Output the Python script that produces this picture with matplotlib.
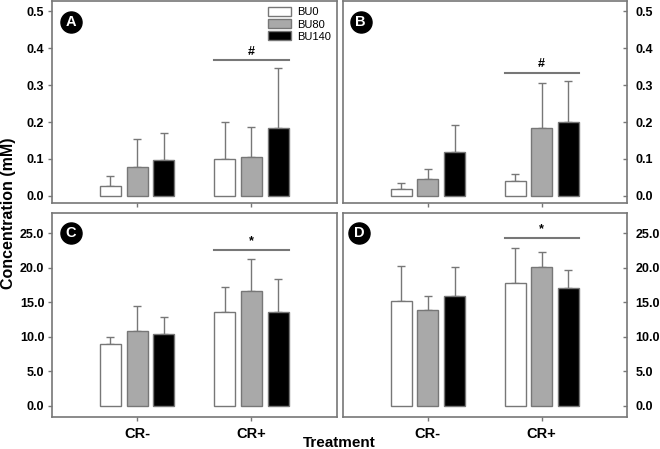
import numpy as np
import matplotlib
matplotlib.use("Agg")
import matplotlib.pyplot as plt

plt.rcParams['font.family'] = ['Liberation Sans', 'DejaVu Sans']
plt.rcParams['font.weight'] = 'bold'

groups = ["CR-", "CR+"]
series = ["BU0", "BU80", "BU140"]
colors = ["white", "#a9a9a9", "black"]

# panel A
a_mean = [[0.028, 0.101], [0.077, 0.105], [0.097, 0.184]]
a_err = [[0.026, 0.099], [0.076, 0.082], [0.073, 0.163]]
# panel B
b_mean = [[0.018, 0.041], [0.047, 0.184], [0.120, 0.200]]
b_err = [[0.016, 0.019], [0.026, 0.123], [0.073, 0.111]]
# panel C
c_mean = [[8.9, 13.55], [10.85, 16.6], [10.4, 13.6]]
c_err = [[1.1, 3.7], [3.6, 4.7], [2.4, 4.7]]
# panel D
d_mean = [[15.2, 17.75], [13.85, 20.1], [15.95, 17.0]]
d_err = [[5.1, 5.05], [2.1, 2.1], [4.2, 2.7]]

sig_a, sig_b, sig_c, sig_d = 0.367, 0.333, 22.6, 24.3
ticks_small = [0.0, 0.1, 0.2, 0.3, 0.4, 0.5]
ticks_big = [0.0, 5.0, 10.0, 15.0, 20.0, 25.0]

edge = "#777777"
fig = plt.figure(figsize=(6.6, 4.49), dpi=100)
pos = {"A": [0.0788, 0.548, 0.4318, 0.450],
       "B": [0.5197, 0.548, 0.4303, 0.450],
       "C": [0.0788, 0.0713, 0.4318, 0.4543],
       "D": [0.5197, 0.0713, 0.4303, 0.4543]}
panels = {"A": (a_mean, a_err, sig_a, "#", ticks_small, (-0.019, 0.528)),
          "B": (b_mean, b_err, sig_b, "#", ticks_small, (-0.019, 0.528)),
          "C": (c_mean, c_err, sig_c, "*", ticks_big, (-1.6, 27.9)),
          "D": (d_mean, d_err, sig_d, "*", ticks_big, (-1.6, 27.9))}
letter_xy = {"A": (0.067, 0.897), "B": (0.062, 0.897),
             "C": (0.067, 0.902), "D": (0.057, 0.902)}

x = np.arange(len(groups))
w = 0.184
off = 0.234
for key, (mean, err, sig, mark, yt, yl) in panels.items():
    ax = fig.add_axes(pos[key])
    for i in range(3):
        ax.bar(x + (i - 1) * off, mean[i], w, color=colors[i], edgecolor=edge,
               linewidth=1, label=series[i], zorder=2)
        ax.errorbar(x + (i - 1) * off, mean[i], yerr=[np.zeros(2), err[i]],
                    fmt="none", ecolor=edge, elinewidth=1, capsize=3,
                    capthick=1, zorder=1)
    ax.set_xlim(-0.746, 1.75)
    ax.set_ylim(*yl)
    ax.set_yticks(yt)
    ax.set_yticklabels(["%.1f" % t for t in yt])
    ax.set_xticks(x)
    if key in ("C", "D"):
        ax.set_xticklabels(groups)
    else:
        ax.set_xticklabels([])
    for s in ax.spines.values():
        s.set_color(edge)
        s.set_linewidth(1.2)
    ax.tick_params(axis="both", color=edge, length=3, width=1)
    ax.tick_params(axis="y", labelsize=9)
    ax.tick_params(axis="x", pad=4, labelsize=10.5)
    if key in ("B", "D"):
        ax.yaxis.tick_right()
        ax.tick_params(axis="y", direction="in", pad=6)
    else:
        ax.tick_params(axis="y", pad=2.5)
    # significance bar
    ax.plot([x[1] - off - w / 2, x[1] + off + w / 2], [sig, sig],
            color=edge, lw=1.5)
    ax.annotate(mark, (x[1], sig), xytext=(0, 2), textcoords="offset points",
                ha="center", va="bottom", fontsize=9)
    # panel letter
    lx, ly = letter_xy[key]
    ax.scatter([lx], [ly], s=230, color="black", transform=ax.transAxes,
               zorder=5, clip_on=False)
    ax.text(lx, ly, key, transform=ax.transAxes, ha="center",
            va="center", color="white", fontsize=10.5, zorder=6)
    if key == "A":
        ax.legend(loc="upper right", bbox_to_anchor=(1.0, 1.0), frameon=False,
                  prop={"size": 8, "weight": "normal"}, handlelength=2.1,
                  handleheight=0.9, labelspacing=0.15, borderaxespad=0.15,
                  handletextpad=0.5)

fig.text(0.013, 0.525, "Concentration (mM)", rotation=90, ha="center",
         va="center", fontsize=11.5)
fig.text(0.514, 0.013, "Treatment", ha="center", va="center", fontsize=11)

fig.savefig("out.png", dpi=100)
